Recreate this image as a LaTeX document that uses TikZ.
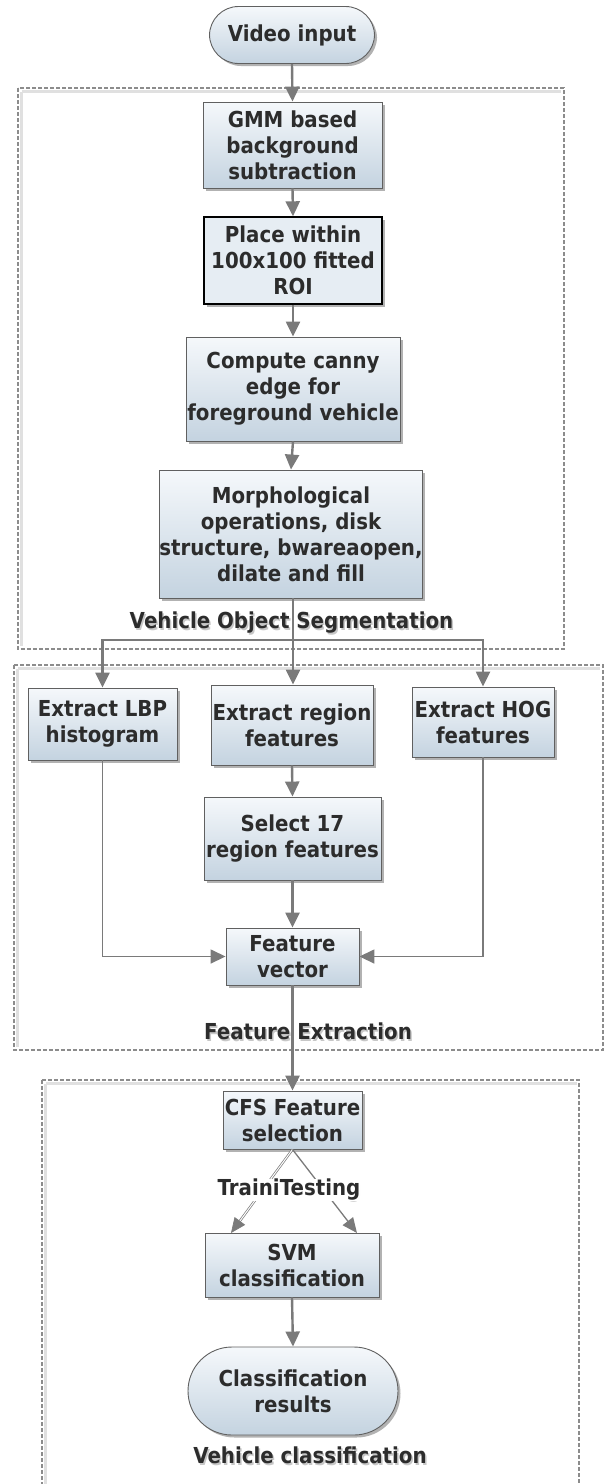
\documentclass[tikz,border=0pt]{standalone}
\usepackage{fontspec}
\setmainfont{DejaVu Sans}[FakeStretch=0.9]
\usetikzlibrary{arrows.meta,shadows}
\definecolor{linegray}{HTML}{7A7A7A}
\definecolor{boxtop}{HTML}{F5F8FB}
\definecolor{boxbot}{HTML}{C4D3E0}
\definecolor{txt}{HTML}{2C2C2C}
\definecolor{dashgray}{HTML}{8C8C8C}
\begin{document}
\begin{tikzpicture}[x=1pt,y=-1pt,
  fnt/.style={font=\fontsize{22}{26}\selectfont\bfseries},
  proc/.style={fnt, draw=gray!75!black, line width=0.9pt, top color=boxtop, bottom color=boxbot,
    align=center, text=txt, inner sep=0pt,
    drop shadow={shadow xshift=2.5pt, shadow yshift=-2.5pt, opacity=0.3, fill=black}},
  term/.style={proc, rounded corners=#1},
  plain/.style={fnt, draw=black, line width=1.4pt, fill=boxtop!70!boxbot, align=center, text=txt, inner sep=0pt,
    drop shadow={shadow xshift=2.5pt, shadow yshift=-2.5pt, opacity=0.3, fill=black}},
  lbl/.style={fnt, text=txt, inner sep=1pt},
  lblsh/.style={fnt, text=black!22, inner sep=1pt},
  arr/.style={draw=linegray, line width=2.4pt, -{Triangle[width=14pt,length=15pt]}},
  ln/.style={draw=linegray, line width=2.4pt},
  sidearr/.style={draw=linegray, line width=1.6pt, -{Triangle[width=14pt,length=15pt]}},
  thinarr/.style={draw=linegray, line width=1.3pt, -{Triangle[width=13pt,length=15pt]}},
  grp/.style={draw=dashgray, line width=1.2pt, dash pattern=on 4pt off 2pt},
  grpsh/.style={draw=black!12, line width=3pt}
]
\useasboundingbox (0,0) rectangle (606,1484);

% group frames
\draw[grpsh] (21.5,91.5) -- (560.5,91.5);
\draw[grpsh] (21.5,91.5) -- (21.5,645.5);
\draw[grp] (18,88) rectangle (564,649);
\draw[grpsh] (17.5,668.5) -- (599.5,668.5);
\draw[grpsh] (17.5,668.5) -- (17.5,1046.5);
\draw[grp] (14,665) rectangle (603,1050);
\draw[grpsh] (45.5,1083.5) -- (576.5,1083.5);
\draw[grpsh] (45.5,1083.5) -- (45.5,1484);
\draw[grp] (42,1080) -- (42,1490) (42,1080) -- (579,1080) -- (579,1490);

% nodes
\node[term=29pt, minimum width=165pt, minimum height=57pt] (vid) at (292,35) {Video input};
\node[proc, minimum width=179pt, minimum height=86pt] (gmm) at (292.5,145) {GMM based\\background\\subtraction};
\node[plain, minimum width=178pt, minimum height=87pt] (place) at (293,260.5) {Place within\\100x100 fitted\\ROI};
\node[proc, minimum width=214pt, minimum height=104pt] (canny) at (293,389) {Compute canny\\edge for\\foreground vehicle};
\node[proc, minimum width=252pt, minimum height=128pt] (morph) at (291,534) {Morphological\\operations, disk\\structure, bwareaopen,\\dilate and fill};

\node[lblsh] (vosS) at (293,625) {Vehicle Object Segmentation};
\node[lbl] (vos) at (291.5,623) {Vehicle Object Segmentation};

\node[proc, minimum width=149pt, minimum height=72pt] (lbp) at (102.5,724) {Extract LBP\\histogram};
\node[proc, minimum width=162pt, minimum height=80pt] (region) at (292,725) {Extract region\\features};
\node[proc, minimum width=142pt, minimum height=70pt] (hog) at (483,722) {Extract HOG\\features};
\node[proc, minimum width=177pt, minimum height=83pt] (select) at (292.5,838.5) {Select 17\\region features};
\node[proc, minimum width=133pt, minimum height=57pt] (fv) at (292.5,956.5) {Feature\\vector};

\node[lblsh] (feS) at (309.5,1033) {Feature Extraction};
\node[lbl] (fe) at (308,1031) {Feature Extraction};

\node[proc, minimum width=139pt, minimum height=58pt] (cfs) at (292.5,1120) {CFS Feature\\selection};
\node[proc, minimum width=174pt, minimum height=64pt] (svm) at (292,1265) {SVM\\classification};
\node[term=44pt, minimum width=210pt, minimum height=88pt] (res) at (293,1391) {Classification\\results};

\node[lblsh] (vcS) at (311.5,1457) {Vehicle classification};
\node[lbl] (vc) at (310,1455) {Vehicle classification};

% connectors
\draw[arr] (vid.south) -- (gmm.north);
\draw[arr] (gmm.south) -- (place.north);
\draw[arr] (place.south) -- (canny.north);
\draw[arr] (canny.south) -- (morph.north);

\coordinate (br) at (293,640);
\draw[ln] (morph.south -| br) -- (br);
\draw[arr] (br) -| (lbp.north);
\draw[arr] (br) -| (hog.north);
\draw[arr] (br) -- (region.north -| br);

\draw[arr] (region.south) -- (select.north);
\draw[arr] (select.south) -- (fv.north);
\draw[sidearr] (lbp.south) |- (fv.west);
\draw[sidearr] (hog.south) |- (fv.east);
\draw[arr] (fv.south) -- (cfs.north);

\coordinate (tl) at (231,1233);
\coordinate (tr) at (357,1233);
\draw[thinarr, double=white, double distance=1pt, line width=0.7pt] (cfs.south) -- (tl);
\draw[thinarr] (cfs.south) -- (tr);
\node[lblsh, fill=none] (ttS) at (290.5,1192) {TrainiTesting};
\node[lbl, fill=white, inner sep=0pt] (tt) at (289,1190) {TrainiTesting};

\draw[arr] (svm.south) -- (res.north);
\end{tikzpicture}
\end{document}
